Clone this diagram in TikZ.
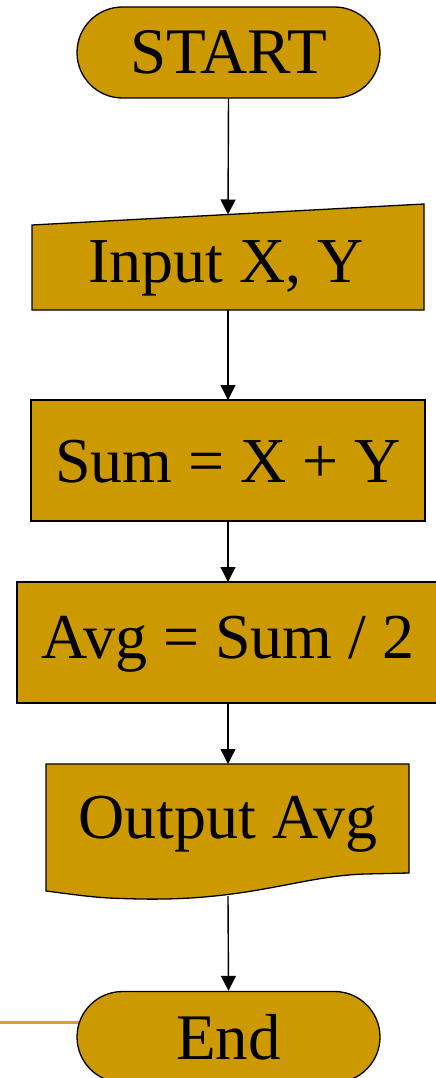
\documentclass[tikz,border=0pt]{standalone}
\usepackage{fontspec}
\setmainfont{Liberation Serif}
\usetikzlibrary{shapes.misc,arrows.meta}
\definecolor{boxfill}{HTML}{CC9900}
\definecolor{sideline}{HTML}{D4A321}
\tikzset{
  shapeline/.style={draw=black,line width=1.3pt,fill=boxfill},
  label/.style={font=\fontsize{64}{70}\selectfont,inner sep=0pt},
  terminal/.style={shapeline,rounded rectangle,minimum width=303pt,minimum height=91pt,inner sep=0pt,font=\fontsize{65}{70}\selectfont},
  flow/.style={draw=black,line width=1.4pt,-{Triangle[length=15pt,width=15pt]}}
}
\begin{document}
\begin{tikzpicture}[x=1pt,y=-1pt]
\useasboundingbox (0,0) rectangle (436,1078);
\clip (0,0) rectangle (436,1078);
% start
\node[terminal] (start) at (228.5,52.5) {START};
% input
\draw[shapeline] (32,225) -- (424,204) -- (424,310) -- (32,310) -- cycle;
\coordinate (intop) at (228,214.5);
\coordinate (inbot) at (228,310);
\node[label] (input) at (226,268) {Input X, Y};
% sum
\draw[shapeline] (31,400) rectangle (425,521);
\coordinate (sumtop) at (228,400);
\coordinate (sumbot) at (228,521);
\node[label] (sum) at (228,462) {Sum = X + Y};
% avg
\draw[shapeline] (17,582) rectangle (440,703);
\coordinate (avgtop) at (228,582);
\coordinate (avgbot) at (228,703);
\node[label] (avg) at (228,644) {Avg = Sum / 2};
% output
\draw[shapeline] (46,764) -- (409,764) -- (409,873) -- (365,874)
  .. controls (300,876) and (250,901) .. (140,899)
  .. controls (100,898) .. (46,891) -- cycle;
\coordinate (outtop) at (228,764);
\coordinate (outbot) at (228,896);
\node[label] (output) at (228,824) {Output Avg};
% end
\draw[sideline,line width=3pt] (0,1022) -- (80,1022);
\node[terminal] (end) at (228.5,1037) {End};
% connectors
\draw[flow] (start.south) -- (intop);
\draw[flow] (inbot) -- (sumtop);
\draw[flow] (sumbot) -- (avgtop);
\draw[flow] (avgbot) -- (outtop);
\draw[flow] (outbot) -- (end.north);
\end{tikzpicture}
\end{document}
